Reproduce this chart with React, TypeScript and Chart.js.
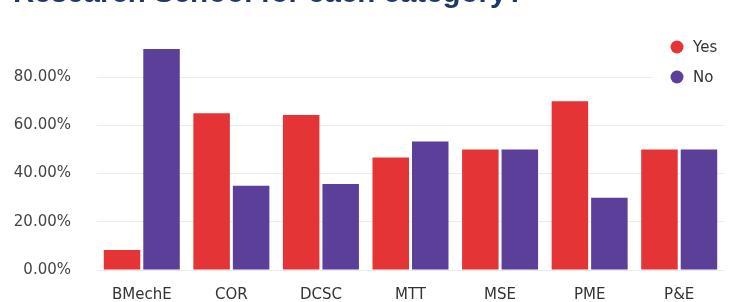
import React, { useEffect, useRef } from "react";
import { Chart, registerables } from "chart.js";

Chart.register(...registerables);

const categories = ["BMechE", "COR", "DCSC", "MTT", "MSE", "PME", "P&E"];
const yesValues = [8.33, 65.0, 64.29, 46.67, 50.0, 70.0, 50.0];
const noValues = [91.67, 35.0, 35.71, 53.33, 50.0, 30.0, 50.0];
const yTicks = [0, 20, 40, 60, 80];
const titleText = "Research School for each category?";

const RED = "#e43435";
const PURPLE = "#5b3f99";
const FONT = "'DejaVu Sans', sans-serif";

const insideLegend = {
  id: "insideLegend",
  afterDraw(chart: any) {
    const ctx = chart.ctx;
    ctx.save();
    ctx.fillStyle = "#ffffff";
    ctx.fillRect(653, 32, 72, 60);
    chart.data.datasets.forEach((ds: any, i: number) => {
      const cy = 47 + i * 30;
      ctx.beginPath();
      ctx.arc(677, cy, 6.5, 0, Math.PI * 2);
      ctx.fillStyle = ds.backgroundColor;
      ctx.fill();
      ctx.fillStyle = "#333333";
      ctx.font = "15px " + FONT;
      ctx.textBaseline = "middle";
      ctx.textAlign = "left";
      ctx.fillText(ds.label, 693, cy + 1);
    });
    ctx.restore();
  },
};

export default function App() {
  const ref = useRef<HTMLCanvasElement | null>(null);
  useEffect(() => {
    if (!ref.current) return;
    const chart = new Chart(ref.current, {
      type: "bar",
      data: {
        labels: categories,
        datasets: [
          { label: "Yes", data: yesValues, backgroundColor: RED },
          { label: "No", data: noValues, backgroundColor: PURPLE },
        ],
      },
      options: {
        responsive: false,
        animation: false,
        layout: { autoPadding: false, padding: { top: 41, right: 8, bottom: 0, left: 0 } },
        datasets: { bar: { categoryPercentage: 0.882, barPercentage: 0.924 } },
        plugins: { legend: { display: false }, title: { display: false }, tooltip: { enabled: false } },
        scales: {
          x: {
            grid: { display: false },
            border: { display: false },
            ticks: { color: "#333333", font: { family: FONT, size: 15 }, padding: 8, maxRotation: 0 },
            afterFit(scale: any) {
              scale.height = 32;
            },
          },
          y: {
            min: 0,
            max: 95,
            grid: { color: "#ebebeb", drawTicks: false, lineWidth: 1 },
            border: { display: false },
            afterBuildTicks(scale: any) {
              scale.ticks = yTicks.map((v) => ({ value: v }));
            },
            afterFit(scale: any) {
              scale.width = 97;
            },
            ticks: {
              color: "#444444",
              font: { family: FONT, size: 15 },
              padding: 26,
              callback: (v: any) => Number(v).toFixed(2) + "%",
            },
          },
        },
      },
      plugins: [insideLegend],
    });
    return () => chart.destroy();
  }, []);
  return (
    <div style={{ position: "fixed", left: 0, top: 0, width: 732, height: 302, background: "#fff", overflow: "hidden" }}>
      <canvas ref={ref} width={732} height={305} style={{ position: "absolute", left: 0, top: 0 }} />
      <div
        style={{
          position: "absolute",
          left: 13,
          top: -22,
          fontFamily: "'Liberation Sans', Arial, sans-serif",
          fontWeight: 700,
          fontSize: 29.5,
          lineHeight: "28px",
          color: "#1f376c",
          whiteSpace: "nowrap",
        }}
      >
        {titleText}
      </div>
    </div>
  );
}
